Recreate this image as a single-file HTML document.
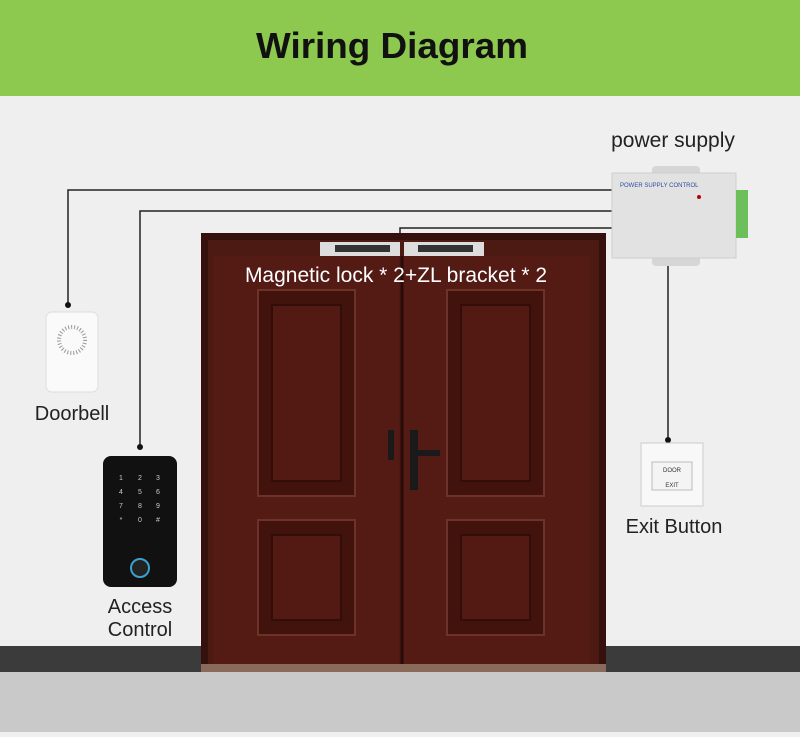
<!DOCTYPE html>
<html><head><meta charset="utf-8"><style>
body{margin:0;width:800px;height:732px;overflow:hidden;background:#efefef;font-family:"Liberation Sans",sans-serif}
</style></head><body>
<svg width="800" height="732" xmlns="http://www.w3.org/2000/svg" font-family="Liberation Sans, sans-serif">
<rect width="800" height="732" fill="#efefef"/>
<rect width="800" height="96" fill="#8dc94f"/>
<text x="392" y="58" font-size="36" font-weight="bold" text-anchor="middle" fill="#111" textLength="272" lengthAdjust="spacingAndGlyphs">Wiring Diagram</text>
<rect y="646" width="800" height="26" fill="#3b3b3b"/>
<rect y="672" width="800" height="60" fill="#c9c9c9"/>
<g stroke="#222" stroke-width="1.5" fill="none">
<polyline points="612,190 68,190 68,305"/>
<polyline points="612,211 140,211 140,447"/>
<polyline points="612,228 400,228 400,236"/>
<line x1="668" y1="262" x2="668" y2="440"/>
</g>
<circle cx="68" cy="305" r="3" fill="#111"/><circle cx="140" cy="447" r="3" fill="#111"/>
<circle cx="400" cy="236" r="3" fill="#111"/><circle cx="668" cy="440" r="3" fill="#111"/>
<rect x="201" y="233" width="405" height="439" fill="#35100c"/>
<rect x="208" y="240" width="391" height="432" fill="#4c1913"/>
<rect x="213" y="256" width="186" height="412" fill="#531b14"/>
<rect x="404" y="256" width="186" height="412" fill="#531b14"/>
<line x1="402" y1="256" x2="402" y2="668" stroke="#2a0b08" stroke-width="3"/>
<g fill="#42130d" stroke="#6e3328" stroke-width="2">
<rect x="258" y="290" width="97" height="206"/><rect x="447" y="290" width="97" height="206"/>
<rect x="258" y="520" width="97" height="115"/><rect x="447" y="520" width="97" height="115"/>
</g>
<g fill="#521a13" stroke="#330d09" stroke-width="2">
<rect x="272" y="305" width="69" height="176"/><rect x="461" y="305" width="69" height="176"/>
<rect x="272" y="535" width="69" height="85"/><rect x="461" y="535" width="69" height="85"/>
</g>
<rect x="201" y="664" width="405" height="8" fill="#8a6a5a"/>
<rect x="410" y="430" width="8" height="60" fill="#1a1a1a"/><rect x="418" y="450" width="22" height="6" fill="#1a1a1a"/>
<rect x="388" y="430" width="6" height="30" fill="#1a1a1a"/>
<rect x="320" y="242" width="80" height="14" fill="#ddd"/><rect x="404" y="242" width="80" height="14" fill="#ddd"/>
<rect x="335" y="245" width="55" height="7" fill="#333"/><rect x="418" y="245" width="55" height="7" fill="#333"/>
<text x="396" y="282" font-size="21" fill="#fff" text-anchor="middle">Magnetic lock * 2+ZL bracket * 2</text>
<rect x="652" y="166" width="48" height="100" rx="4" fill="#d6d6d6"/>
<rect x="612" y="173" width="124" height="85" fill="#e2e2e2" stroke="#cfcfcf"/>
<rect x="736" y="190" width="12" height="48" fill="#6cbf5a"/>
<text x="620" y="187" font-size="6" fill="#2a4fa0">POWER SUPPLY CONTROL</text>
<circle cx="699" cy="197" r="2" fill="#b00"/>
<text x="673" y="147" font-size="21" text-anchor="middle" fill="#222">power supply</text>
<rect x="46" y="312" width="52" height="80" rx="6" fill="#fafafa" stroke="#ddd"/>
<circle cx="72" cy="340" r="13" fill="none" stroke="#999" stroke-dasharray="1 2" stroke-width="4"/>
<text x="72" y="420" font-size="20" text-anchor="middle" fill="#222">Doorbell</text>
<rect x="103" y="456" width="74" height="131" rx="8" fill="#111"/>
<g fill="#ccc" font-size="7" text-anchor="middle">
<text x="121" y="480">1</text><text x="140" y="480">2</text><text x="158" y="480">3</text>
<text x="121" y="494">4</text><text x="140" y="494">5</text><text x="158" y="494">6</text>
<text x="121" y="508">7</text><text x="140" y="508">8</text><text x="158" y="508">9</text>
<text x="121" y="522">*</text><text x="140" y="522">0</text><text x="158" y="522">#</text>
</g>
<circle cx="140" cy="568" r="9" fill="#222" stroke="#3aa0d0" stroke-width="2"/>
<text x="140" y="613" font-size="20" text-anchor="middle" fill="#222">Access</text>
<text x="140" y="636" font-size="20" text-anchor="middle" fill="#222">Control</text>
<rect x="641" y="443" width="62" height="63" fill="#f8f8f8" stroke="#ccc"/>
<rect x="652" y="462" width="40" height="28" fill="#f4f4f4" stroke="#bbb"/>
<text x="672" y="472" font-size="6" text-anchor="middle" fill="#333">DOOR</text>
<text x="672" y="487" font-size="6" text-anchor="middle" fill="#333">EXIT</text>
<text x="674" y="533" font-size="20" text-anchor="middle" fill="#222">Exit Button</text>
</svg>
</body></html>
